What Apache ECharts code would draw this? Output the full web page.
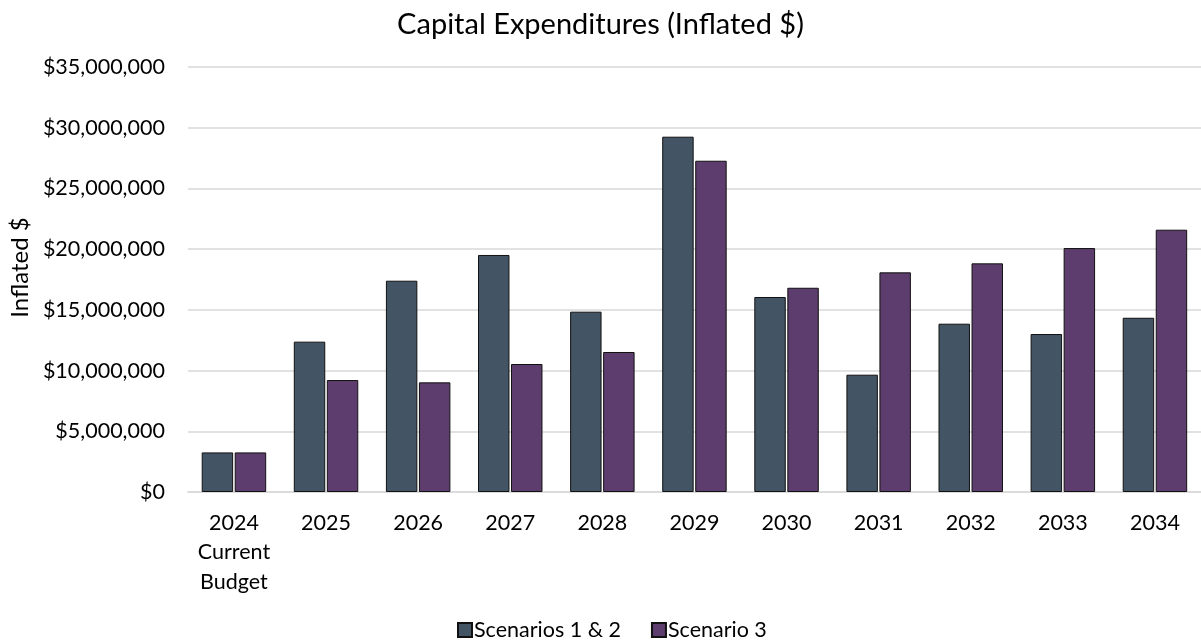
<!DOCTYPE html>
<html>
<head>
<meta charset="utf-8">
<script src="https://cdn.jsdelivr.net/npm/echarts@6/dist/echarts.min.js"></script>
<style>
  html, body { margin: 0; padding: 0; background: #ffffff; }
  #chart { width: 1201px; height: 640px; }
</style>
</head>
<body>
<div id="chart"></div>
<script>
// Capital expenditures by year, inflated dollars
const categories = ['2024\nCurrent\nBudget', '2025', '2026', '2027', '2028', '2029', '2030', '2031', '2032', '2033', '2034'];
const scenarios12 = [3260000, 12380000, 17400000, 19520000, 14850000, 29260000, 16060000, 9660000, 13860000, 13010000, 14350000];
const scenario3 = [3260000, 9220000, 9030000, 10540000, 11530000, 27280000, 16820000, 18090000, 18830000, 20090000, 21600000];
const seriesNames = ['Scenarios 1 & 2', 'Scenario 3'];
const yTicks = { min: 0, max: 35000000, interval: 5000000 };

const font = 'Lato, "Open Sans", sans-serif';

function money(v) {
  return '$' + Math.round(v).toString().replace(/\B(?=(\d{3})+(?!\d))/g, ',');
}

const chart = echarts.init(document.getElementById('chart'), null, { renderer: 'canvas' });
chart.setOption({
  animation: false,
  backgroundColor: '#ffffff',
  title: {
    text: 'Capital Expenditures (Inflated $)',
    left: 'center',
    top: 5,
    textStyle: { fontFamily: font, fontSize: 29, fontWeight: 'normal', color: '#000000' }
  },
  legend: {
    top: 614,
    left: 452,
    itemWidth: 14,
    itemHeight: 14,
    itemGap: 30,
    icon: 'rect',
    textStyle: { fontFamily: font, fontSize: 21.5, color: '#000000', padding: [0, 0, 0, -3] },
    data: seriesNames
  },
  grid: { left: 186, right: -7, top: 67, bottom: 148, containLabel: false },
  xAxis: {
    type: 'category',
    data: categories,
    axisLine: { show: true, lineStyle: { color: '#d9d9d9', width: 1.5 } },
    axisTick: { show: false },
    axisLabel: {
      fontFamily: font, fontSize: 21.5, color: '#000000',
      lineHeight: 29.5, margin: 16, interval: 0, verticalAlign: 'top'
    }
  },
  yAxis: {
    type: 'value',
    min: yTicks.min,
    max: yTicks.max,
    interval: yTicks.interval,
    name: 'Inflated $',
    nameLocation: 'middle',
    nameRotate: 90,
    nameGap: 152,
    nameTextStyle: { fontFamily: font, fontSize: 24, color: '#000000', padding: [0, 0, 0, 24] },
    axisLine: { show: false },
    axisTick: { show: false },
    splitLine: { lineStyle: { color: '#d9d9d9', width: 1.5 } },
    axisLabel: { fontFamily: font, fontSize: 21.5, color: '#000000', margin: 23, formatter: money }
  },
  series: [
    {
      name: seriesNames[0],
      type: 'bar',
      data: scenarios12,
      barGap: '5%',
      barCategoryGap: '30%',
      itemStyle: { color: '#435464', borderColor: '#111111', borderWidth: 1 }
    },
    {
      name: seriesNames[1],
      type: 'bar',
      data: scenario3,
      itemStyle: { color: '#5d3d6d', borderColor: '#111111', borderWidth: 1 }
    }
  ]
});
</script>
</body>
</html>
